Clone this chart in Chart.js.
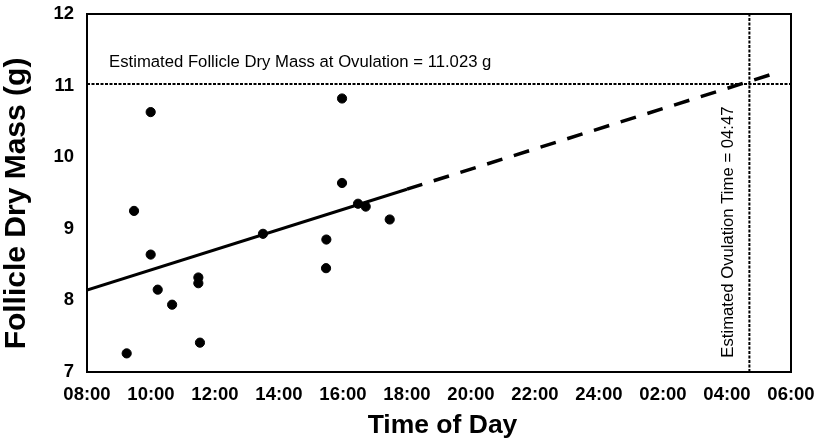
<!DOCTYPE html>
<html>
<head>
<meta charset="utf-8">
<script src="https://cdn.jsdelivr.net/npm/chart.js@4/dist/chart.umd.min.js"></script>
<style>
  html, body { margin: 0; padding: 0; background: #fff; }
  #wrap { width: 816px; height: 442px; position: relative; }
</style>
</head>
<body>
<div id="wrap"><canvas id="follicle-chart"></canvas></div>
<script>
  // observed follicles: time of day (hours from midnight, next day > 24) and dry mass (g)
  var hours = [9.24, 9.47, 9.99, 9.99, 10.21, 10.66, 11.48, 11.48, 11.53, 13.5, 15.48, 15.47, 15.97, 15.97, 16.47, 16.71, 17.46];
  var mass = [7.26, 9.25, 10.63, 8.64, 8.15, 7.94, 8.32, 8.24, 7.41, 8.93, 8.85, 8.45, 10.82, 9.64, 9.35, 9.31, 9.13];

  // regression line (solid over data range) and its extrapolation (dashed)
  var fitHours = [8, 18];
  var fitMass = [8.145, 9.553];
  var extHours = [18, 29.6];
  var extMass = [9.553, 11.186];

  // estimated ovulation
  var ovulationMass = 11.023;
  var ovulationHour = 28.7;

  var tickHours = [8, 10, 12, 14, 16, 18, 20, 22, 24, 26, 28, 30];
  var tickLabels = ['08:00', '10:00', '12:00', '14:00', '16:00', '18:00', '20:00', '22:00', '24:00', '02:00', '04:00', '06:00'];

  function pts(xs, ys) {
    return xs.map(function(x, i) { return { x: x, y: ys[i] }; });
  }

  var FONT = '"Liberation Sans", Arial, sans-serif';

  var labelsPlugin = {
    id: 'labels',
    afterDraw: function(chart) {
      var ctx = chart.ctx, a = chart.chartArea;
      var xs = chart.scales.x, ys = chart.scales.y;
      ctx.save();
      // frame
      ctx.strokeStyle = '#000';
      ctx.lineWidth = 2;
      ctx.strokeRect(a.left, a.top, a.right - a.left, a.bottom - a.top);

      ctx.fillStyle = '#000';
      ctx.font = '16.7px ' + FONT;
      ctx.textAlign = 'left';
      ctx.textBaseline = 'middle';
      ctx.fillText('Estimated Follicle Dry Mass at Ovulation = 11.023 g',
        xs.getPixelForValue(8.69), ys.getPixelForValue(11.33));

      ctx.save();
      ctx.translate(xs.getPixelForValue(28.03), ys.getPixelForValue(7.2));
      ctx.rotate(-Math.PI / 2);
      ctx.fillText('Estimated Ovulation Time = 04:47', 0, 0);
      ctx.restore();

      // axis titles
      ctx.textAlign = 'center';
      ctx.font = 'bold 30px ' + FONT;
      ctx.save();
      ctx.translate(17, 203.5);
      ctx.rotate(-Math.PI / 2);
      ctx.fillText('Follicle Dry Mass (g)', 0, 0);
      ctx.restore();
      ctx.font = 'bold 26.5px ' + FONT;
      ctx.fillText('Time of Day', 442.5, 426);
      ctx.restore();
    }
  };

  new Chart(document.getElementById('follicle-chart'), {
    type: 'scatter',
    data: {
      datasets: [
        {
          label: 'Ovulation mass',
          type: 'line',
          data: pts([8, 30], [ovulationMass, ovulationMass]),
          borderColor: '#000',
          borderWidth: 2,
          borderDash: [3, 1.5],
          pointRadius: 0
        },
        {
          label: 'Ovulation time',
          type: 'line',
          data: pts([ovulationHour, ovulationHour], [7, 12]),
          borderColor: '#000',
          borderWidth: 2,
          borderDash: [3, 1.5],
          pointRadius: 0
        },
        {
          label: 'Fit',
          type: 'line',
          data: pts(fitHours, fitMass),
          borderColor: '#000',
          borderWidth: 3,
          pointRadius: 0
        },
        {
          label: 'Extrapolation',
          type: 'line',
          data: pts(extHours, extMass),
          borderColor: '#000',
          borderWidth: 3.5,
          borderDash: [16, 12],
          pointRadius: 0
        },
        {
          label: 'Follicles',
          data: pts(hours, mass),
          backgroundColor: '#000',
          borderColor: '#000',
          pointRadius: 4.6,
          pointHoverRadius: 4.6
        }
      ]
    },
    options: {
      responsive: true,
      maintainAspectRatio: false,
      animation: false,
      layout: { padding: { top: 14, right: 25, left: 0, bottom: 0 } },
      plugins: {
        legend: { display: false },
        tooltip: { enabled: false }
      },
      scales: {
        x: {
          type: 'linear',
          min: 8,
          max: 30,
          afterFit: function(s) { s.height = 70; },
          afterBuildTicks: function(s) {
            s.ticks = tickHours.map(function(h) { return { value: h }; });
          },
          grid: { display: false, drawTicks: true, tickLength: 12 },
          border: { display: false },
          ticks: {
            padding: 0,
            color: '#000',
            font: { family: FONT, size: 18.5, weight: 'bold' },
            maxRotation: 0,
            callback: function(v) {
              var i = tickHours.indexOf(v);
              return i >= 0 ? tickLabels[i] : '';
            }
          }
        },
        y: {
          min: 7,
          max: 12,
          afterFit: function(s) { s.width = 87; },
          grid: { display: false, drawTicks: true, tickLength: 13 },
          border: { display: false },
          ticks: {
            stepSize: 1,
            padding: 0,
            color: '#000',
            font: { family: FONT, size: 18.5, weight: 'bold' }
          }
        }
      }
    },
    plugins: [labelsPlugin]
  });
</script>
</body>
</html>
